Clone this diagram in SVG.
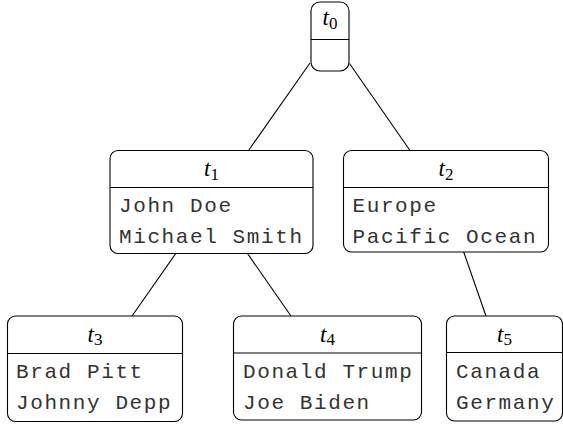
<svg xmlns="http://www.w3.org/2000/svg" width="563" height="428" viewBox="0 0 563 428">
<style>
.box{fill:#fff;stroke:#000;stroke-width:1.1}
.dv{stroke:#000;stroke-width:1.1}
.t{font-family:"Liberation Serif",serif;font-style:italic;font-size:23px;fill:#000}
.s{font-style:normal;font-size:17px}
.m{font-family:"Liberation Mono",monospace;font-size:21px;letter-spacing:1.6px;fill:#333}
.e{stroke:#000;stroke-width:1.1;fill:none}
</style>
<rect width="563" height="428" fill="#fff"/>
<g id="edges">
<line class="e" x1="310" y1="63" x2="248.5" y2="150.5"/>
<line class="e" x1="349.5" y1="63.5" x2="410" y2="150.5"/>
<line class="e" x1="175.8" y1="253.5" x2="132" y2="316"/>
<line class="e" x1="247.5" y1="253.5" x2="291" y2="316"/>
<line class="e" x1="463.6" y1="251.7" x2="486" y2="316"/>
</g>
<g id="t0">
<rect class="box" x="311" y="2" width="38" height="69" rx="9"/>
<line class="dv" x1="311" y1="39.5" x2="349" y2="39.5"/>
<text class="t" x="330" y="25" text-anchor="middle">t<tspan class="s" dy="3.5">0</tspan></text>
</g>
<g id="t1">
<rect class="box" x="110" y="150.5" width="203" height="103" rx="8"/>
<line class="dv" x1="110" y1="187.5" x2="313" y2="187.5"/>
<text class="t" x="211.5" y="176" text-anchor="middle">t<tspan class="s" dy="3.5">1</tspan></text>
<text class="m" x="119" y="212">John Doe</text>
<text class="m" x="119" y="243">Michael Smith</text>
</g>
<g id="t2">
<rect class="box" x="343.5" y="150.5" width="205" height="101.5" rx="8"/>
<line class="dv" x1="343.5" y1="187.5" x2="548.5" y2="187.5"/>
<text class="t" x="446" y="176" text-anchor="middle">t<tspan class="s" dy="3.5">2</tspan></text>
<text class="m" x="352.5" y="212">Europe</text>
<text class="m" x="352.5" y="243">Pacific Ocean</text>
</g>
<g id="t3">
<rect class="box" x="7.5" y="316" width="175" height="105.5" rx="8"/>
<line class="dv" x1="7.5" y1="353.5" x2="182.5" y2="353.5"/>
<text class="t" x="95" y="341.5" text-anchor="middle">t<tspan class="s" dy="3.5">3</tspan></text>
<text class="m" x="16" y="378">Brad Pitt</text>
<text class="m" x="16" y="409">Johnny Depp</text>
</g>
<g id="t4">
<rect class="box" x="233.5" y="316" width="188" height="104" rx="8"/>
<line class="dv" x1="233.5" y1="353" x2="421.5" y2="353"/>
<text class="t" x="327.5" y="341.5" text-anchor="middle">t<tspan class="s" dy="3.5">4</tspan></text>
<text class="m" x="243" y="378">Donald Trump</text>
<text class="m" x="243" y="409">Joe Biden</text>
</g>
<g id="t5">
<rect class="box" x="446.5" y="316" width="116" height="105" rx="8"/>
<line class="dv" x1="446.5" y1="352.5" x2="562.5" y2="352.5"/>
<text class="t" x="504.5" y="341.5" text-anchor="middle">t<tspan class="s" dy="3.5">5</tspan></text>
<text class="m" x="456" y="378">Canada</text>
<text class="m" x="456" y="409">Germany</text>
</g>
</svg>
